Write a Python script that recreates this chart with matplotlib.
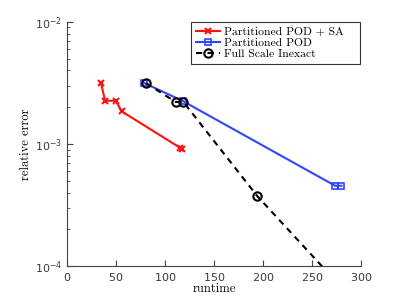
import matplotlib
matplotlib.use("Agg")
import matplotlib.pyplot as plt
from matplotlib.ticker import LogLocator, NullFormatter

plt.rcParams['axes.formatter.use_mathtext'] = True
plt.rcParams['mathtext.fontset'] = 'dejavusans'

# data
sa_runtime = [34.7, 38.8, 49.7, 55.8, 115.5, 117.0]
sa_error = [3.15e-3, 2.26e-3, 2.26e-3, 1.85e-3, 9.3e-4, 9.1e-4]

pod_runtime = [79.0, 118.0, 273.5, 280.0]
pod_error = [3.15e-3, 2.25e-3, 4.55e-4, 4.55e-4]

full_runtime = [80.5, 110.9, 118.7, 194.0, 320.0]
full_error = [3.15e-3, 2.21e-3, 2.21e-3, 3.75e-4, 3.0e-5]

labels = ['Partitioned POD + SA', 'Partitioned POD', 'Full Scale Inexact']
xticks = [0, 50, 100, 150, 200, 250, 300]

fig = plt.figure(figsize=(3.99, 3.0), dpi=100)
ax = fig.add_axes([0.168, 0.113, 0.737, 0.814])

ax.plot(sa_runtime, sa_error, color='#ff1010', lw=1.5, marker='x', ms=5, mew=1.5, label=labels[0])
ax.plot(pod_runtime, pod_error, color='#2f45ff', lw=1.5, marker='s', ms=5, mew=1.2,
        mfc='none', label=labels[1])
ax.plot(full_runtime, full_error, color='black', lw=1.5, ls=(0, (3, 2.5)), marker='o', ms=6,
        mew=1.5, mfc='none', label=labels[2])

ax.set_yscale('log')
ax.set_xlim(0, 300)
ax.set_ylim(1e-4, 1e-2)
ax.set_xticks(xticks)
ax.yaxis.set_major_locator(LogLocator(base=10, numticks=5))
ax.yaxis.set_minor_locator(LogLocator(base=10, subs=range(2, 10), numticks=20))
ax.yaxis.set_minor_formatter(NullFormatter())

for s in ['top', 'right']:
    ax.spines[s].set_visible(False)
for s in ['left', 'bottom']:
    ax.spines[s].set_color('#444444')
    ax.spines[s].set_linewidth(0.8)
ax.tick_params(which='both', direction='in', colors='#444444', labelsize=8, labelcolor='#3a3a3a')
ax.tick_params(which='major', length=4)
ax.tick_params(which='minor', length=2)

ax.set_xlabel('runtime', family='cmr10', fontsize=9, labelpad=0)
ax.set_ylabel('relative error', family='cmr10', fontsize=9, labelpad=2)

leg = ax.legend(loc='upper right', bbox_to_anchor=(0.422, 0.5, 0.575, 0.5), mode='expand',
                prop={'family': 'cmr10', 'size': 8.4},
                fancybox=False, framealpha=1, edgecolor='#333333', borderpad=0.4,
                labelspacing=0.08, handlelength=2.1, handletextpad=0.3, borderaxespad=0)
leg.get_frame().set_linewidth(0.8)

fig.savefig('out.png', dpi=100)
